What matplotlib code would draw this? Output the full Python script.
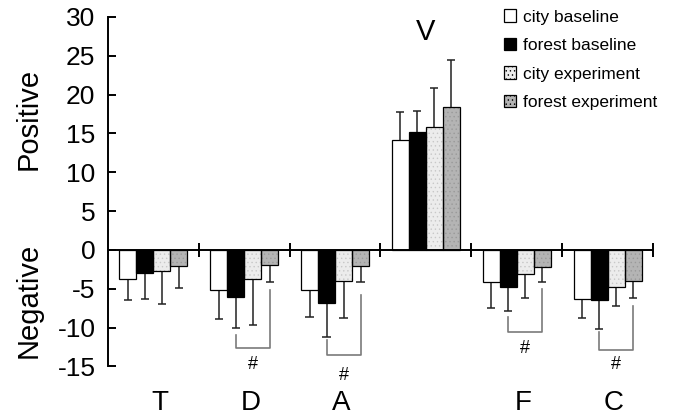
import numpy as np
import matplotlib.pyplot as plt
from matplotlib.patches import Patch

plt.rcParams['font.family'] = ['Liberation Sans', 'DejaVu Sans']
plt.rcParams['hatch.linewidth'] = 0.5
plt.rcParams['axes.unicode_minus'] = False

# categories and groups
categories = ['T', 'D', 'A', 'V', 'F', 'C']
series = ['city baseline', 'forest baseline', 'city experiment', 'forest experiment']

# mean values per series (one value per category)
city_base = [-3.8, -5.2, -5.1, 14.2, -4.1, -6.3]
forest_base = [-3.0, -6.0, -6.8, 15.2, -4.8, -6.5]
city_exp = [-2.7, -3.8, -4.0, 15.8, -3.1, -4.8]
forest_exp = [-2.1, -1.9, -2.1, 18.4, -2.2, -4.0]

# one-sided error (SD) per series
city_base_err = [2.6, 3.7, 3.5, 3.5, 3.4, 2.5]
forest_base_err = [3.3, 4.1, 4.4, 2.7, 3.1, 3.7]
city_exp_err = [4.3, 5.8, 4.7, 5.0, 3.1, 2.4]
forest_exp_err = [2.8, 2.2, 2.0, 6.1, 1.9, 2.2]

# significance brackets: category, left top, right top, bottom, '#' height
sig_cats = ['D', 'A', 'F', 'C']
sig_left = [-10.9, -11.6, -8.6, -10.5]
sig_right = [-5.1, -5.8, -5.0, -7.2]
sig_bottom = [-12.6, -13.5, -10.6, -12.9]
sig_mark = [-14.7, -16.1, -12.7, -14.7]

values = [city_base, forest_base, city_exp, forest_exp]
errors = [city_base_err, forest_base_err, city_exp_err, forest_exp_err]
faces = ['white', 'black', '#ececec', '#b4b4b4']
hatches = [None, None, '....', '....']
hatch_cols = [None, None, '#c8c8c8', '#9a9a9a']

fig = plt.figure(figsize=(6.74, 4.16), dpi=100)
ax = fig.add_axes([0.1602, 0.119, 0.8086, 0.8405])

x = np.arange(len(categories)) + 0.5
w = 0.187
offs = (np.arange(4) - 1.5) * w

for i in range(4):
    xi = x + offs[i]
    v = np.array(values[i])
    e = np.array(errors[i])
    if hatches[i]:
        ax.bar(xi, v, w, color=faces[i], edgecolor=hatch_cols[i], hatch=hatches[i], linewidth=0, zorder=2)
        ax.bar(xi, v, w, fill=False, edgecolor='black', linewidth=0.9, zorder=3)
    else:
        ax.bar(xi, v, w, color=faces[i], edgecolor='black', linewidth=0.9, zorder=3)
    end = v + np.sign(v) * e
    ax.vlines(xi, v, end, color='#222222', linewidth=1.1, zorder=1)
    ax.hlines(end, xi - 0.045, xi + 0.045, color='#222222', linewidth=1.1, zorder=1)

# zero line with group separators
ax.plot([0, len(categories)], [0, 0], color='black', linewidth=1.4, zorder=4)
ax.plot(np.arange(1, len(categories) + 1), np.zeros(len(categories)), linestyle='none',
        marker='|', markersize=10, markeredgewidth=1.4, color='black', zorder=4)

# brackets
for c, yl, yr, yb, ym in zip(sig_cats, sig_left, sig_right, sig_bottom, sig_mark):
    k = categories.index(c)
    xl = x[k] + offs[1]
    xr = x[k] + offs[3]
    ax.plot([xl, xl, xr, xr], [yl, yb, yb, yr], color='#7a7a7a', linewidth=1.2)
    ax.text((xl + xr) / 2, ym, '#', ha='center', va='center', fontsize=13)

# category letters
for k, c in enumerate(categories):
    if np.mean([v[k] for v in values]) > 0:
        ax.text(x[k], 28.0, c, ha='center', va='center', fontsize=21)
    else:
        ax.text(x[k] + 0.07, -19.7, c, ha='center', va='center', fontsize=20, clip_on=False)

ax.set_xlim(0, len(categories))
ax.set_ylim(-15, 30)
ax.set_yticks(np.arange(-15, 31, 5))
ax.set_xticks([])
for s in ['top', 'right', 'bottom']:
    ax.spines[s].set_visible(False)
ax.spines['left'].set_linewidth(1.4)
ax.tick_params(axis='y', direction='in', length=6, width=1.4, labelsize=19, pad=9)

fig.text(0.042, 0.715, 'Positive', rotation=90, ha='center', va='center', fontsize=21)
fig.text(0.042, 0.278, 'Negative', rotation=90, ha='center', va='center', fontsize=21)

handles = [Patch(facecolor=faces[i], edgecolor='black', hatch=hatches[i], linewidth=0.9) for i in range(4)]
fig.legend(handles, series, loc='upper left', bbox_to_anchor=(0.725, 1.015), frameon=False,
           fontsize=12.5, handlelength=0.7, handleheight=0.7, handletextpad=0.35, labelspacing=0.77)

fig.savefig('out.png', dpi=100)
